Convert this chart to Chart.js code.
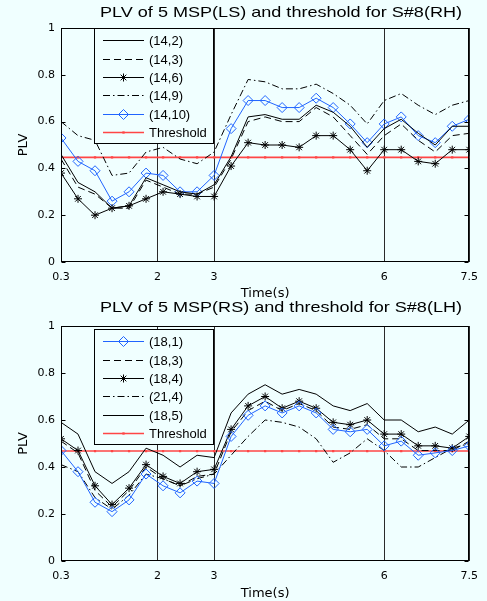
<!DOCTYPE html>
<html>
<head>
<meta charset="utf-8">
<script src="https://cdn.jsdelivr.net/npm/chart.js@4.4.1/dist/chart.umd.min.js"></script>
<style>
  html, body { margin: 0; padding: 0; background: #f0ffff; }
  canvas { display: block; }
</style>
</head>
<body>
<canvas id="topChart" width="487" height="301"></canvas>
<canvas id="bottomChart" width="487" height="300"></canvas>
<script>
// time axis (s), one PLV value every 0.3 s
const times = [0.3, 0.6, 0.9, 1.2, 1.5, 1.8, 2.1, 2.4, 2.7, 3.0, 3.3, 3.6, 3.9,
               4.2, 4.5, 4.8, 5.1, 5.4, 5.7, 6.0, 6.3, 6.6, 6.9, 7.2, 7.5];
const xTicks = [0.3, 2, 3, 6, 7.5];
const xTickLabels = ['0.3', '2', '3', '6', '7.5'];
const yTicks = [0, 0.2, 0.4, 0.6, 0.8, 1];
const yTickLabels = ['0', '0.2', '0.4', '0.6', '0.8', '1'];

// top panel: MSP(LS), S#8(RH)
const ls14_2  = [0.46, 0.34, 0.30, 0.23, 0.24, 0.36, 0.33, 0.30, 0.29, 0.33, 0.45, 0.62, 0.63,
                 0.61, 0.61, 0.67, 0.64, 0.58, 0.49, 0.57, 0.61, 0.55, 0.50, 0.58, 0.58];
const ls14_3  = [0.44, 0.32, 0.29, 0.23, 0.23, 0.35, 0.32, 0.29, 0.29, 0.32, 0.44, 0.60, 0.62,
                 0.60, 0.60, 0.66, 0.62, 0.54, 0.46, 0.54, 0.59, 0.52, 0.47, 0.54, 0.55];
const ls14_6  = [0.38, 0.27, 0.20, 0.23, 0.24, 0.27, 0.30, 0.29, 0.28, 0.28, 0.41, 0.51, 0.50,
                 0.50, 0.49, 0.54, 0.54, 0.48, 0.39, 0.48, 0.48, 0.43, 0.42, 0.48, 0.48];
const ls14_9  = [0.60, 0.54, 0.52, 0.37, 0.38, 0.47, 0.49, 0.44, 0.42, 0.47, 0.63, 0.78, 0.77,
                 0.74, 0.74, 0.76, 0.72, 0.67, 0.59, 0.69, 0.72, 0.67, 0.63, 0.67, 0.69];
const ls14_10 = [0.53, 0.43, 0.39, 0.26, 0.30, 0.38, 0.37, 0.30, 0.30, 0.37, 0.57, 0.69, 0.69,
                 0.66, 0.66, 0.70, 0.66, 0.59, 0.51, 0.59, 0.62, 0.54, 0.51, 0.58, 0.61];
const thresholdRH = [0.447, 0.447, 0.447, 0.447, 0.447, 0.447, 0.447, 0.447, 0.447, 0.447, 0.447, 0.447, 0.447,
                     0.447, 0.447, 0.447, 0.447, 0.447, 0.447, 0.447, 0.447, 0.447, 0.447, 0.447, 0.447];

// bottom panel: MSP(RS), S#8(LH)
const rs18_1 = [0.47, 0.38, 0.25, 0.21, 0.26, 0.37, 0.32, 0.29, 0.34, 0.33, 0.53, 0.62, 0.66,
                0.63, 0.66, 0.63, 0.56, 0.55, 0.56, 0.49, 0.51, 0.45, 0.46, 0.47, 0.49];
const rs18_3 = [0.51, 0.46, 0.30, 0.23, 0.30, 0.40, 0.35, 0.32, 0.36, 0.37, 0.55, 0.64, 0.68,
                0.64, 0.67, 0.64, 0.57, 0.56, 0.58, 0.52, 0.52, 0.47, 0.47, 0.47, 0.51];
const rs18_4 = [0.52, 0.47, 0.32, 0.24, 0.31, 0.41, 0.36, 0.33, 0.38, 0.39, 0.56, 0.66, 0.70,
                0.65, 0.68, 0.65, 0.59, 0.58, 0.60, 0.54, 0.54, 0.49, 0.49, 0.48, 0.53];
const rs21_4 = [0.41, 0.38, 0.27, 0.22, 0.28, 0.37, 0.35, 0.32, 0.35, 0.37, 0.45, 0.53, 0.60,
                0.59, 0.57, 0.52, 0.42, 0.46, 0.52, 0.47, 0.40, 0.40, 0.44, 0.48, 0.50];
const rs18_5 = [0.59, 0.54, 0.38, 0.33, 0.38, 0.48, 0.45, 0.40, 0.45, 0.44, 0.63, 0.71, 0.75,
                0.71, 0.73, 0.71, 0.66, 0.64, 0.67, 0.60, 0.60, 0.55, 0.57, 0.54, 0.60];
const thresholdLH = [0.468, 0.468, 0.468, 0.468, 0.468, 0.468, 0.468, 0.468, 0.468, 0.468, 0.468, 0.468, 0.468,
                     0.468, 0.468, 0.468, 0.468, 0.468, 0.468, 0.468, 0.468, 0.468, 0.468, 0.468, 0.468];

const BG = '#f0ffff';
const BLUE = '#2064ff';
const RED = '#ff4646';
const SANS = "'Liberation Sans', Arial, Helvetica, sans-serif";
const WIDE = "'DejaVu Sans', sans-serif";

// line styles
const solid = {};
const dashed = { borderDash: [7, 4] };
const dashDot = { borderDash: [7, 3, 1.5, 3] };
const stars = { pointStyle: 'star', pointRadius: 4, pointBorderColor: '#000', pointBorderWidth: 1, pointBackgroundColor: '#000' };
const diamonds = { borderColor: BLUE, pointStyle: 'rectRot', pointRadius: 5, pointBorderColor: BLUE,
                   pointBorderWidth: 1, pointBackgroundColor: 'rgba(0,0,0,0)' };
const thresh = { borderColor: RED, borderWidth: 1.6, pointStyle: 'rect', pointRadius: 1.6, pointBorderWidth: 0,
                 pointBackgroundColor: RED, pointBorderColor: RED };

function series(label, values, style) {
  return Object.assign({
    label: label,
    data: times.map((t, i) => ({ x: t, y: values[i] })),
    borderColor: '#000',
    borderWidth: 1,
    pointRadius: 0,
    fill: false,
    tension: 0
  }, style);
}

// box, inward ticks, stretched title and the boxed legend
const framePlugin = {
  id: 'frame',
  afterDatasetsDraw(chart, args, opts) {
    const ctx = chart.ctx, a = chart.chartArea;
    const left = a.left + 33, top = a.top + opts.legendDy, w = 119, h = 115;
    ctx.save();
    ctx.fillStyle = BG;
    ctx.fillRect(left, top, w, h);
    ctx.strokeStyle = '#000';
    ctx.lineWidth = 1;
    ctx.setLineDash([]);
    ctx.strokeRect(Math.round(left) + 0.5, Math.round(top) + 0.5, w, h);
    chart.data.datasets.forEach((d, i) => {
      const y = Math.round(top + 12.4 + i * 18.3) + 0.5;
      ctx.save();
      ctx.strokeStyle = d.borderColor;
      ctx.lineWidth = d.borderWidth;
      ctx.setLineDash(d.borderDash || []);
      ctx.beginPath();
      ctx.moveTo(left + 9, y);
      ctx.lineTo(left + 50, y);
      ctx.stroke();
      ctx.setLineDash([]);
      if (d.pointRadius > 0) {
        ctx.strokeStyle = d.pointBorderColor;
        ctx.fillStyle = d.pointBackgroundColor;
        ctx.lineWidth = d.pointBorderWidth;
        Chart.helpers.drawPoint(ctx, { pointStyle: d.pointStyle, radius: d.pointRadius,
                                       borderWidth: d.pointBorderWidth, rotation: 0 }, left + 29.5, y);
      }
      ctx.restore();
      ctx.fillStyle = '#000';
      ctx.font = '13px ' + SANS;
      ctx.textAlign = 'left';
      ctx.textBaseline = 'middle';
      ctx.fillText(d.label, left + 55, y + 0.5);
    });
    ctx.restore();
  },
  afterDraw(chart, args, opts) {
    const ctx = chart.ctx, a = chart.chartArea, ys = chart.scales.y;
    ctx.save();
    ctx.strokeStyle = '#000';
    ctx.lineWidth = 1;
    const l = Math.round(a.left) + 0.5, r = Math.round(a.right) - 0.5;
    const t = Math.round(a.top) + 0.5, b = Math.round(a.bottom) - 0.5;
    ctx.strokeRect(l, t, r - l, b - t);
    ctx.beginPath();
    yTicks.forEach(v => {
      const py = Math.round(ys.getPixelForValue(v)) + 0.5;
      ctx.moveTo(l, py); ctx.lineTo(l + 4, py);
      ctx.moveTo(r, py); ctx.lineTo(r - 4, py);
    });
    ctx.stroke();
    ctx.font = '15px ' + SANS;
    ctx.fillStyle = '#000';
    ctx.textAlign = 'center';
    ctx.textBaseline = 'middle';
    const tw = ctx.measureText(opts.title).width;
    ctx.translate(281, opts.titleY);
    ctx.scale(362 / tw, 1);
    ctx.fillText(opts.title, 0, 0);
    ctx.restore();
  }
};

function makeChart(id, datasets, title, padTop, xAxisHeight, titleY, legendDy) {
  return new Chart(document.getElementById(id), {
    type: 'line',
    data: { datasets: datasets },
    plugins: [framePlugin],
    options: {
      responsive: false,
      animation: false,
      events: [],
      layout: { padding: { top: padTop, right: 15, bottom: 0, left: 0 } },
      plugins: {
        legend: { display: false },
        title: { display: false },
        tooltip: { enabled: false },
        frame: { title: title, titleY: titleY, legendDy: legendDy }
      },
      scales: {
        x: {
          type: 'linear',
          min: 0.3,
          max: 7.5,
          afterBuildTicks: s => { s.ticks = xTicks.map(v => ({ value: v })); },
          afterFit: s => { s.height = xAxisHeight; },
          ticks: {
            autoSkip: false, maxRotation: 0, padding: 9, color: '#000',
            font: { family: WIDE, size: 11 },
            callback: (v, i) => xTickLabels[i]
          },
          grid: { color: '#2a2a2a', lineWidth: 1, drawTicks: false },
          border: { display: false },
          title: { display: true, text: 'Time(s)', color: '#000', padding: 0,
                   font: { family: WIDE, size: 13 } }
        },
        y: {
          min: 0,
          max: 1,
          afterBuildTicks: s => { s.ticks = yTicks.map(v => ({ value: v })); },
          afterFit: s => { s.width = 61; },
          ticks: {
            padding: 6, color: '#000',
            font: { family: WIDE, size: 11 },
            callback: (v, i) => yTickLabels[i]
          },
          grid: { drawOnChartArea: false, drawTicks: false },
          border: { display: false },
          title: { display: true, text: 'PLV', color: '#000', padding: { top: 16, bottom: 0 },
                   font: { family: WIDE, size: 13 } }
        }
      }
    }
  });
}

makeChart('topChart', [
  series('(14,2)', ls14_2, solid),
  series('(14,3)', ls14_3, dashed),
  series('(14,6)', ls14_6, stars),
  series('(14,9)', ls14_9, dashDot),
  series('(14,10)', ls14_10, diamonds),
  series('Threshold', thresholdRH, thresh)
], 'PLV of 5 MSP(LS) and threshold for S#8(RH)', 28, 39, 13, 0);

makeChart('bottomChart', [
  series('(18,1)', rs18_1, diamonds),
  series('(18,3)', rs18_3, dashed),
  series('(18,4)', rs18_4, stars),
  series('(21,4)', rs21_4, dashDot),
  series('(18,5)', rs18_5, solid),
  series('Threshold', thresholdLH, thresh)
], 'PLV of 5 MSP(RS) and threshold for S#8(LH)', 25, 40, 6.5, 3);
</script>
</body>
</html>
